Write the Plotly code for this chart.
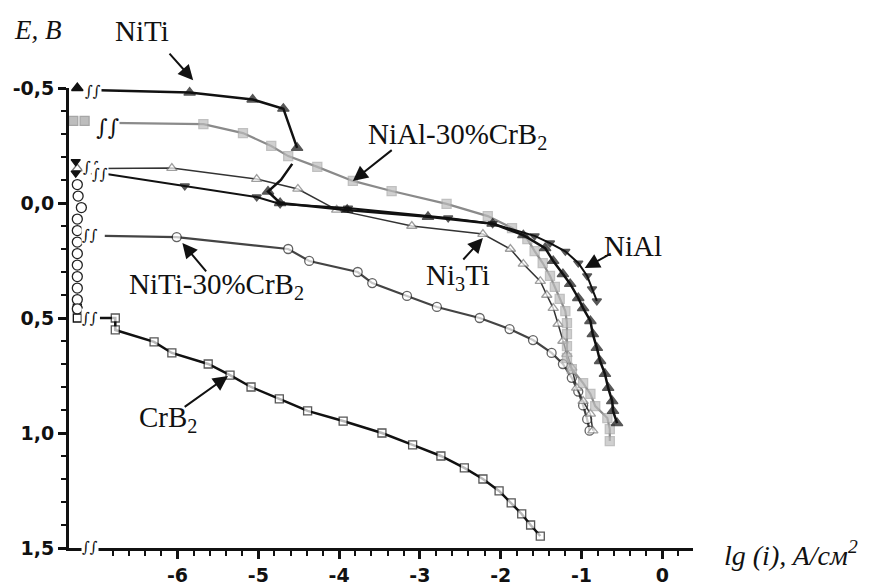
import plotly.graph_objects as go

# ---------------- data ----------------
x_tick_vals = [-6, -5, -4, -3, -2, -1, 0]
x_tick_text = ["-6", "-5", "-4", "-3", "-2", "-1", "0"]
y_tick_vals = [-0.5, 0.0, 0.5, 1.0, 1.5]
y_tick_text = ["-0,5", "0,0", "0,5", "1,0", "1,5"]

# NiTi (filled up-triangles)
niti_left_x = [-7.24, -7.24]
niti_left_y = [-0.55, -0.50]
niti_x = [-6.96, -5.85, -5.07, -4.69, -4.52, None, -4.58, -4.72, -4.88, -4.73, -3.90, -2.90,
          -2.10, -1.72, -1.45, -1.35, -1.23, -1.14, -1.04, -0.98, -0.89, -0.86, -0.81, -0.77,
          -0.71, -0.67, -0.62, -0.61, -0.56]
niti_y = [-0.49, -0.48, -0.45, -0.41, -0.24, None, -0.17, -0.10, -0.05, 0.00, 0.03, 0.06,
          0.09, 0.14, 0.196, 0.252, 0.309, 0.352, 0.413, 0.457, 0.513, 0.570, 0.630, 0.687,
          0.743, 0.804, 0.861, 0.904, 0.957]

# NiAl (filled down-triangles)
nial_left_x = [-7.26, -7.26]
nial_left_y = [-0.18, -0.13]
nial_x = [-6.96, -5.91, -5.02, -4.73, -3.89, -2.65, -2.10, -1.58, -1.39, -1.20, -1.04, -0.93, -0.87, -0.81]
nial_y = [-0.13, -0.074, -0.026, 0.004, 0.022, 0.065, 0.09, 0.143, 0.174, 0.21, 0.261, 0.317, 0.374, 0.426]

# Ni3Ti (open up-triangles)
ni3ti_left_x = [-7.24]
ni3ti_left_y = [-0.15]
ni3ti_x = [-6.96, -6.07, -5.02, -4.51, -4.03, -3.10, -2.22, -1.88, -1.72, -1.51, -1.43, -1.35,
           -1.29, -1.23, -1.18, -1.12, -1.06, -0.98, -0.89, -0.86]
ni3ti_y = [-0.15, -0.152, -0.104, -0.061, 0.03, 0.10, 0.135, 0.20, 0.265, 0.34, 0.40, 0.457,
           0.526, 0.60, 0.657, 0.717, 0.804, 0.861, 0.917, 0.99]

# NiAl-30%CrB2 (grey squares)
nial30_left_x = [-7.29, -7.15]
nial30_left_y = [-0.357, -0.357]
nial30_x = [-6.85, -5.68, -5.19, -4.84, -4.63, -4.27, -3.83, -3.35, -2.67, -2.16, -1.86, -1.67,
            -1.58, -1.48, -1.39, -1.33, -1.27, -1.20, -1.18, -1.18, -1.18, -1.18, -1.12, -0.98,
            -0.89, -0.83, -0.68, -0.65, -0.65]
nial30_y = [-0.348, -0.343, -0.304, -0.248, -0.204, -0.157, -0.096, -0.052, 0.004, 0.057, 0.109, 0.157,
            0.209, 0.261, 0.317, 0.365, 0.417, 0.470, 0.522, 0.570, 0.622, 0.674, 0.722, 0.783,
            0.830, 0.883, 0.935, 0.983, 1.035]

# NiTi-30%CrB2 (open circles)
niti30_left_x = [-7.24, -7.23, -7.19, -7.24, -7.24, -7.24, -7.24, -7.24, -7.24, -7.24, -7.24, -7.24]
niti30_left_y = [-0.08, -0.03, 0.02, 0.07, 0.12, 0.17, 0.22, 0.27, 0.32, 0.37, 0.42, 0.46]
niti30_x = [-6.90, -6.01, -4.63, -4.37, -3.77, -3.59, -3.16, -2.79, -2.26, -1.89, -1.60, -1.37,
            -1.23, -1.12, -1.04, -0.98, -0.93, -0.90]
niti30_y = [0.143, 0.148, 0.200, 0.252, 0.300, 0.348, 0.404, 0.452, 0.500, 0.548, 0.596, 0.652,
            0.700, 0.76, 0.82, 0.88, 0.94, 0.99]

# CrB2 (open squares)
crb2_left_x = [-7.24, -7.24]
crb2_left_y = [0.457, 0.50]
crb2_x = [-6.96, -6.77, -6.77, -6.29, -6.07, -5.62, -5.35, -5.09, -4.74, -4.39, -3.95, -3.47,
          -3.09, -2.74, -2.45, -2.22, -2.02, -1.87, -1.74, -1.63, -1.51]
crb2_y = [0.50, 0.50, 0.552, 0.604, 0.652, 0.700, 0.748, 0.800, 0.852, 0.904, 0.948, 1.0,
          1.052, 1.100, 1.152, 1.200, 1.252, 1.304, 1.352, 1.400, 1.448]

# ---------------- figure ----------------
fig = go.Figure()


def add_series(xl, yl, x, y, symbol, size, mcolor, mfill, lcolor, lwidth, hidden_idx=(0,), left_size=None):
    sizes = [0 if i in hidden_idx else size for i in range(len(x))]
    fig.add_trace(go.Scatter(
        x=x, y=y, mode="lines+markers", connectgaps=False, cliponaxis=False,
        line=dict(color=lcolor, width=lwidth),
        marker=dict(symbol=symbol, size=sizes, color=mfill,
                    line=dict(color=mcolor, width=1.3)),
        showlegend=False, hoverinfo="skip"))
    fig.add_trace(go.Scatter(
        x=xl, y=yl, mode="markers", cliponaxis=False,
        marker=dict(symbol=symbol, size=left_size or size, color=mfill,
                    line=dict(color=mcolor, width=1.3)),
        showlegend=False, hoverinfo="skip"))


add_series(crb2_left_x, crb2_left_y, crb2_x, crb2_y, "square", 8, "#111111", "white", "#111111", 2.5)
add_series(niti30_left_x, niti30_left_y, niti30_x, niti30_y, "circle", 9, "#222222", "white", "#444444", 2.2,
           left_size=10)
add_series(ni3ti_left_x, ni3ti_left_y, ni3ti_x, ni3ti_y, "triangle-up", 9, "#777777", "white", "#333333", 1.5)
add_series(nial30_left_x, nial30_left_y, nial30_x, nial30_y, "square", 9, "#a6a6a6", "#bdbdbd", "#8a8a8a", 2.2)
add_series(nial_left_x, nial_left_y, nial_x, nial_y, "triangle-down", 8, "#111111", "#111111", "#111111", 2)
add_series(niti_left_x, niti_left_y, niti_x, niti_y, "triangle-up", 10, "#111111", "#111111", "#111111", 2.5,
           hidden_idx=(0, 6, 7))

serif = "Liberation Serif"
LBL = 29
ann = []

# series labels (data coordinates)
labels = [
    ("NiAl-30%CrB<sub>2</sub>", -2.53, -0.29),
    ("Ni<sub>3</sub>Ti", -2.53, 0.32),
    ("NiAl", -0.36, 0.187),
    ("NiTi-30%CrB<sub>2</sub>", -5.52, 0.36),
    ("CrB<sub>2</sub>", -6.12, 0.94),
]
for t, lx, ly in labels:
    ann.append(dict(x=lx, y=ly, xref="x", yref="y", text=t, showarrow=False,
                    font=dict(family=serif, size=LBL, color="#111111"),
                    xanchor="center", yanchor="middle"))

# NiTi label sits above the plotting area -> paper coordinates
ann.append(dict(x=0.117, y=1.124, xref="paper", yref="paper", text="NiTi", showarrow=False,
                font=dict(family=serif, size=LBL, color="#111111"),
                xanchor="center", yanchor="middle"))
ann.append(dict(x=0.199, y=1.017, xref="paper", yref="paper", ax=-25, ay=-28,
                axref="pixel", ayref="pixel", text="", showarrow=True, arrowhead=2,
                arrowsize=1.5, arrowwidth=2, arrowcolor="#111111"))

# arrows (tip, tail) in data coordinates
arrows = [
    (-3.83, -0.096, -3.33, -0.235),
    (-2.22, 0.152, -2.48, 0.252),
    (-0.96, 0.283, -0.62, 0.217),
    (-5.94, 0.174, -5.63, 0.304),
    (-5.375, 0.752, -5.93, 0.891),
]
for tx, ty, sx, sy in arrows:
    ann.append(dict(x=tx, y=ty, ax=sx, ay=sy, xref="x", yref="y", axref="x", ayref="y",
                    text="", showarrow=True, arrowhead=2, arrowsize=1.5, arrowwidth=2,
                    arrowcolor="#111111"))

# axis-break marks
breaks = [(-7.05, -0.485, 15), (-6.87, -0.33, 22), (-7.07, -0.158, 15), (-6.96, -0.128, 15),
          (-7.08, 0.137, 15), (-7.08, 0.50, 15), (-7.08, 1.495, 15)]
for bx, by, bs in breaks:
    ann.append(dict(x=bx, y=by, xref="x", yref="y", text="∫∫", showarrow=False,
                    font=dict(family="DejaVu Serif", size=bs, color="#111111"),
                    bgcolor="white", borderpad=0, xanchor="center", yanchor="middle"))

# axis titles
ann.append(dict(x=-0.05, y=1.126, xref="paper", yref="paper", text="<i>E, B</i>",
                showarrow=False, font=dict(family=serif, size=27, color="#111111"),
                xanchor="center", yanchor="middle"))
ann.append(dict(x=1.046, y=-0.012, xref="paper", yref="paper", text="<i>lg (i), A/см<sup>2</sup></i>",
                showarrow=False, font=dict(family=serif, size=28, color="#111111"),
                xanchor="left", yanchor="middle"))

minor_x = []
for k in range(-34, 2):
    v = round(k * 0.2, 2)
    if v > -6.9 and abs(v - round(v)) > 1e-6:
        minor_x.append(v)

# the page body adds an 8px offset, so the figure is 8px smaller and margins shifted
fig.update_layout(
    width=866, height=577,
    margin=dict(l=61, r=181, t=80, b=37, autoexpand=False),
    paper_bgcolor="white", plot_bgcolor="white",
    annotations=ann,
    xaxis=dict(range=[-7.343, 0.38], showgrid=False, zeroline=False, automargin=False,
               showline=True, linecolor="#111111", linewidth=3,
               tickmode="array", tickvals=x_tick_vals, ticktext=x_tick_text,
               ticks="outside", ticklen=8, tickwidth=2.5, tickcolor="#111111",
               minor=dict(tickmode="array", tickvals=minor_x, ticks="outside",
                          ticklen=5, tickwidth=2, tickcolor="#111111"),
               tickfont=dict(family="DejaVu Sans", size=19, weight="bold", color="#111111")),
    yaxis=dict(range=[1.5, -0.5], showgrid=False, zeroline=False, automargin=False,
               showline=True, linecolor="#111111", linewidth=3,
               tickmode="array", tickvals=y_tick_vals, ticktext=y_tick_text,
               ticks="outside", ticklen=8, tickwidth=2.5, tickcolor="#111111",
               minor=dict(dtick=0.1, tick0=0, ticks="outside",
                          ticklen=5, tickwidth=2, tickcolor="#111111"),
               tickfont=dict(family="DejaVu Sans", size=19, weight="bold", color="#111111")),
)

fig.write_html("out.html")
